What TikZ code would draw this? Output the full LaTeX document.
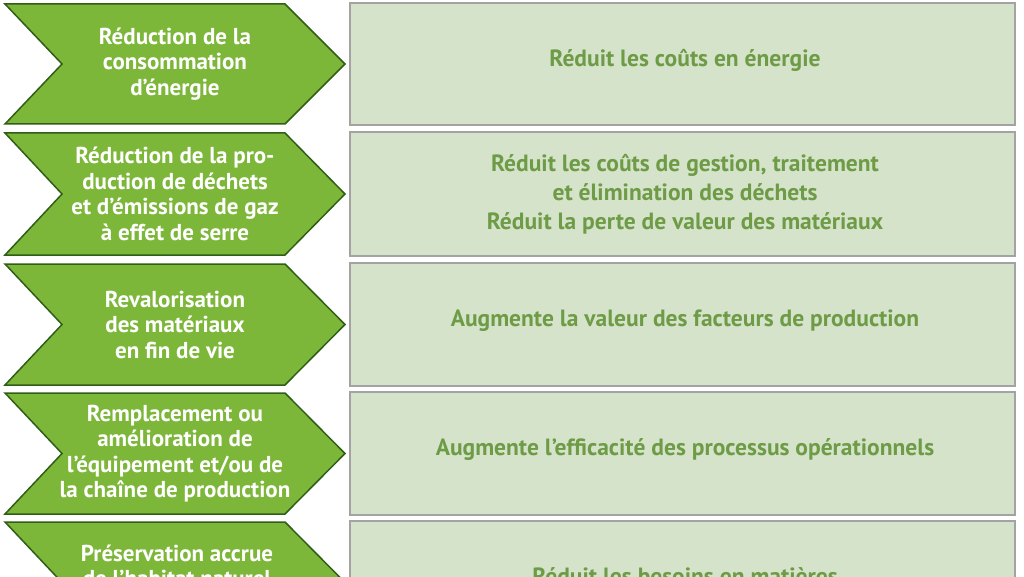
\documentclass[tikz,border=0pt]{standalone}
\usepackage{fontspec}
\setmainfont{PT Sans}
\definecolor{chevfill}{HTML}{7DB73A}
\definecolor{chevdraw}{HTML}{2F5E16}
\definecolor{boxfill}{HTML}{D5E3CB}
\definecolor{boxdraw}{HTML}{A3A3A3}
\definecolor{boxtext}{HTML}{6E9B45}
\begin{document}
\begin{tikzpicture}[x=1pt,y=-1pt]
	\tikzstyle{chev}=[fill=chevfill,draw=chevdraw,line width=1.5pt,line join=miter]
	\tikzstyle{panel}=[fill=boxfill,draw=boxdraw,line width=2.5pt]
	\tikzstyle{lefttext}=[text=white,font=\bfseries\fontsize{23}{25.5}\selectfont,align=center]
	\tikzstyle{righttext}=[text=boxtext,font=\bfseries\fontsize{23.5}{29}\selectfont,align=center]

	\useasboundingbox (0,0) rectangle (1024,577);
	\clip (0,0) rectangle (1024,577);

	% chevrons and panels, one row each
	\foreach \t/\b [count=\i] in {4/124, 133/255, 264/385, 393/514, 522/643} {
		\draw[chev] (5,\t) -- (285,\t) -- (345,{(\t+\b)/2}) -- (285,\b) -- (5,\b) -- (62,{(\t+\b)/2}) -- cycle;
		\draw[panel] (350,\t-1) rectangle (1015,\b+1);
		\coordinate (l\i) at (175,{(\t+\b)/2});
		\coordinate (r\i) at (685,{(\t+\b)/2});
	}

	\node[lefttext] (a1) at (l1) {Réduction de la\\consommation\\d’énergie};
	\node[lefttext] (a2) at (l2) {Réduction de la pro-\\duction de déchets\\et d’émissions de gaz\\à effet de serre};
	\node[lefttext] (a3) at (l3) {Revalorisation\\des matériaux\\en fin de vie};
	\node[lefttext] (a4) at (l4) {Remplacement ou\\amélioration de\\l’équipement et/ou de\\la chaîne de production};
	\node[lefttext,anchor=north] (a5) at (177,541) {Préservation accrue\\de l’habitat naturel};

	\node[righttext] (b1) at ([yshift=4pt]r1) {Réduit les coûts en énergie};
	\node[righttext] (b2) at (r2) {Réduit les coûts de gestion, traitement\\et élimination des déchets\\Réduit la perte de valeur des matériaux};
	\node[righttext] (b3) at ([yshift=4pt]r3) {Augmente la valeur des facteurs de production};
	\node[righttext] (b4) at ([yshift=4pt]r4) {Augmente l’efficacité des processus opérationnels};
	\node[righttext] (b5) at ([yshift=6pt]r5) {Réduit les besoins en matières};
\end{tikzpicture}
\end{document}
